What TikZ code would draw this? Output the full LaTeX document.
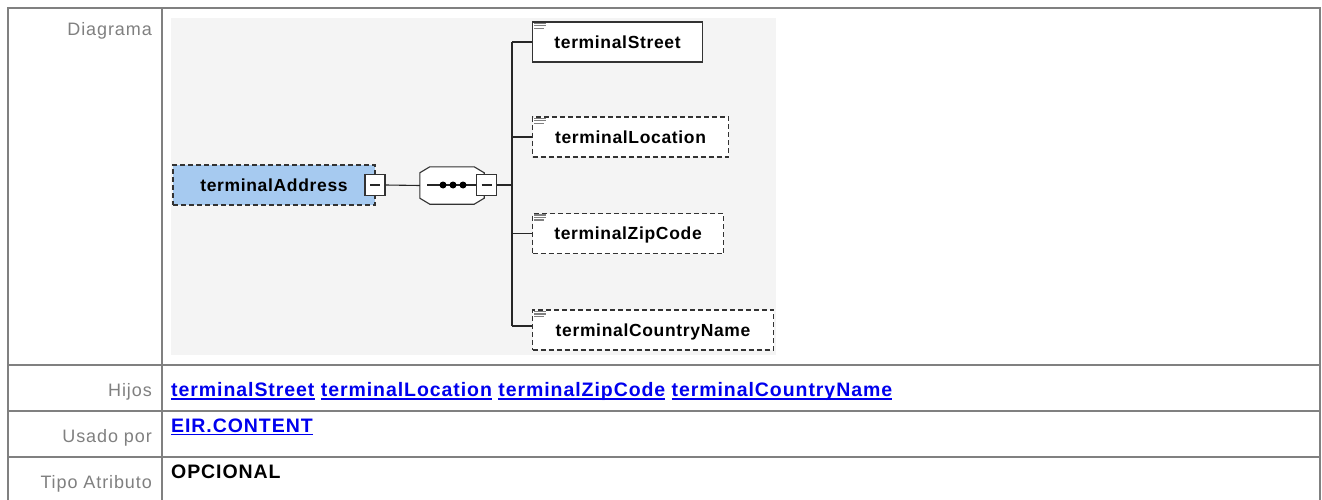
\documentclass[tikz,border=0pt]{standalone}
\usepackage{fontspec}
\setmainfont{Liberation Sans}
\newfontfamily\boxfont[LetterSpace=3.8]{Liberation Sans}
\newfontfamily\linkfont[LetterSpace=4.8]{Liberation Sans}
\newfontfamily\labfont[LetterSpace=5]{Liberation Sans}
\usetikzlibrary{calc}
\definecolor{tblline}{HTML}{808080}
\definecolor{labgray}{HTML}{808080}
\definecolor{diagbg}{HTML}{F4F4F4}
\definecolor{addrblue}{HTML}{A6CAF0}
\definecolor{boxline}{HTML}{333333}
\definecolor{linkblue}{HTML}{0000EE}
\definecolor{icongray}{HTML}{808080}
\newcommand\lnk[1]{\setbox0\hbox{#1}\rlap{\rule[-3pt]{\wd0}{1.3pt}}\box0\relax}
\begin{document}
\begin{tikzpicture}[x=1pt,y=-1pt,
  tbl/.style={draw=tblline,line width=2pt},
  conn/.style={draw=black!85,line width=1.1pt},
  elem/.style={draw=boxline,line width=1.1pt,fill=white,minimum height=40pt,inner sep=0pt,
    text height=12.5pt,text depth=0pt,font=\boxfont\bfseries\fontsize{17.5}{20}\selectfont},
  dsh/.style={dash pattern=on 5pt off 3pt},
  minusbox/.style={draw=boxline,line width=1.1pt,fill=white,minimum width=20pt,minimum height=21pt,inner sep=0pt},
  seqdot/.style={circle,fill=black,inner sep=0pt,minimum size=7pt},
  icon/.style={draw=icongray,line width=1.1pt},
  lab/.style={inner sep=0pt,text=labgray,font=\labfont\fontsize{18}{21}\selectfont},
  lnkst/.style={inner sep=0pt,text=linkblue,font=\linkfont\bfseries\fontsize{19.5}{22}\selectfont},
  valst/.style={inner sep=0pt,text=black,font=\linkfont\bfseries\fontsize{19.5}{22}\selectfont}]
\useasboundingbox (0,0) rectangle (1322,500);
\fill[white] (0,0) rectangle (1322,500);
\fill[diagbg] (171,18) rectangle (776,355);
% table grid
\draw[tbl] (8,500) -- (8,8) -- (1320,8) -- (1320,500);
\draw[tbl] (162,8) -- (162,500);
\draw[tbl] (8,365) -- (1320,365);
\draw[tbl] (8,411) -- (1320,411);
\draw[tbl] (8,457) -- (1320,457);
% labels
\node[lab,anchor=base east] (lDiag) at (152,36) {Diagrama};
\node[lab,anchor=base east] (lHij) at (152,396.5) {Hijos};
\node[lab,anchor=base east] (lUsa) at (152,442.5) {Usado por};
\node[lab,anchor=base east] (lTipo) at (152,488) {Tipo Atributo};
\node[lnkst,anchor=base west] (vHij) at (171,396.5) {\lnk{terminalStreet} \lnk{terminalLocation} \lnk{terminalZipCode} \lnk{terminalCountryName}};
\node[lnkst,anchor=base west] (vUsa) at (171,432) {\lnk{EIR.CONTENT}};
\node[valst,anchor=base west] (vTipo) at (171,478) {OPCIONAL};
% diagram
\node[elem,dsh,fill=addrblue,minimum width=202pt] (addr) at (274,185) {terminalAddress};
\node[minusbox] (m1) at (375,185) {};
\draw[conn] ($(m1.center)+(-5,0)$) -- ($(m1.center)+(5,0)$);
\node[inner sep=0pt,minimum width=64pt,minimum height=37pt] (seq) at (452,185.5) {};
\draw[draw=boxline,line width=1.1pt,fill=white]
  ($(seq.north west)+(10,0)$) -- ($(seq.north east)+(-10,0)$) -- ($(seq.north east)+(0,6)$)
  -- ($(seq.south east)+(0,-6)$) -- ($(seq.south east)+(-10,0)$) -- ($(seq.south west)+(10,0)$)
  -- ($(seq.south west)+(0,-6)$) -- ($(seq.north west)+(0,6)$) -- cycle;
\node[minusbox] (m2) at (486.5,185) {};
\draw[conn] ($(m2.center)+(-5,0)$) -- ($(m2.center)+(5,0)$);
\coordinate (seqin) at (427,185);
\draw[conn] (seqin) -- (m2.west);
\node[seqdot] (d1) at (443,185) {};
\node[seqdot] (d2) at (453,185) {};
\node[seqdot] (d3) at (463,185) {};
\coordinate (jn) at (512,185);
\draw[conn] (m1.east) -- (seq.west);
\draw[conn] (m2.east) -- (jn);
% children
\node[elem,anchor=west,minimum width=170pt] (c1) at (532,42) {terminalStreet};
\node[elem,dsh,anchor=west,minimum width=196pt] (c2) at (532,137) {terminalLocation};
\node[elem,dsh,anchor=west,minimum width=191pt] (c3) at (532,233.5) {terminalZipCode};
\node[elem,dsh,anchor=west,minimum width=241pt] (c4) at (532,330) {terminalCountryName};
\coordinate (c4in) at ($(c4.west)+(0,-4)$);
\foreach \c in {c1,c2,c3,c4}{
  \draw[icon] ($(\c.north west)+(2,2)$) -- +(12,0);
  \draw[icon] ($(\c.north west)+(2,4.5)$) -- +(12,0);
  \draw[icon] ($(\c.north west)+(2,7)$) -- +(10,0);
}
\draw[conn] (jn |- c1.west) -- (jn |- c4in);
\draw[conn] (jn |- c1.west) -- (c1.west);
\draw[conn] (jn |- c2.west) -- (c2.west);
\draw[conn] (jn |- c3.west) -- (c3.west);
\draw[conn] (jn |- c4in) -- (c4in);
\end{tikzpicture}
\end{document}
